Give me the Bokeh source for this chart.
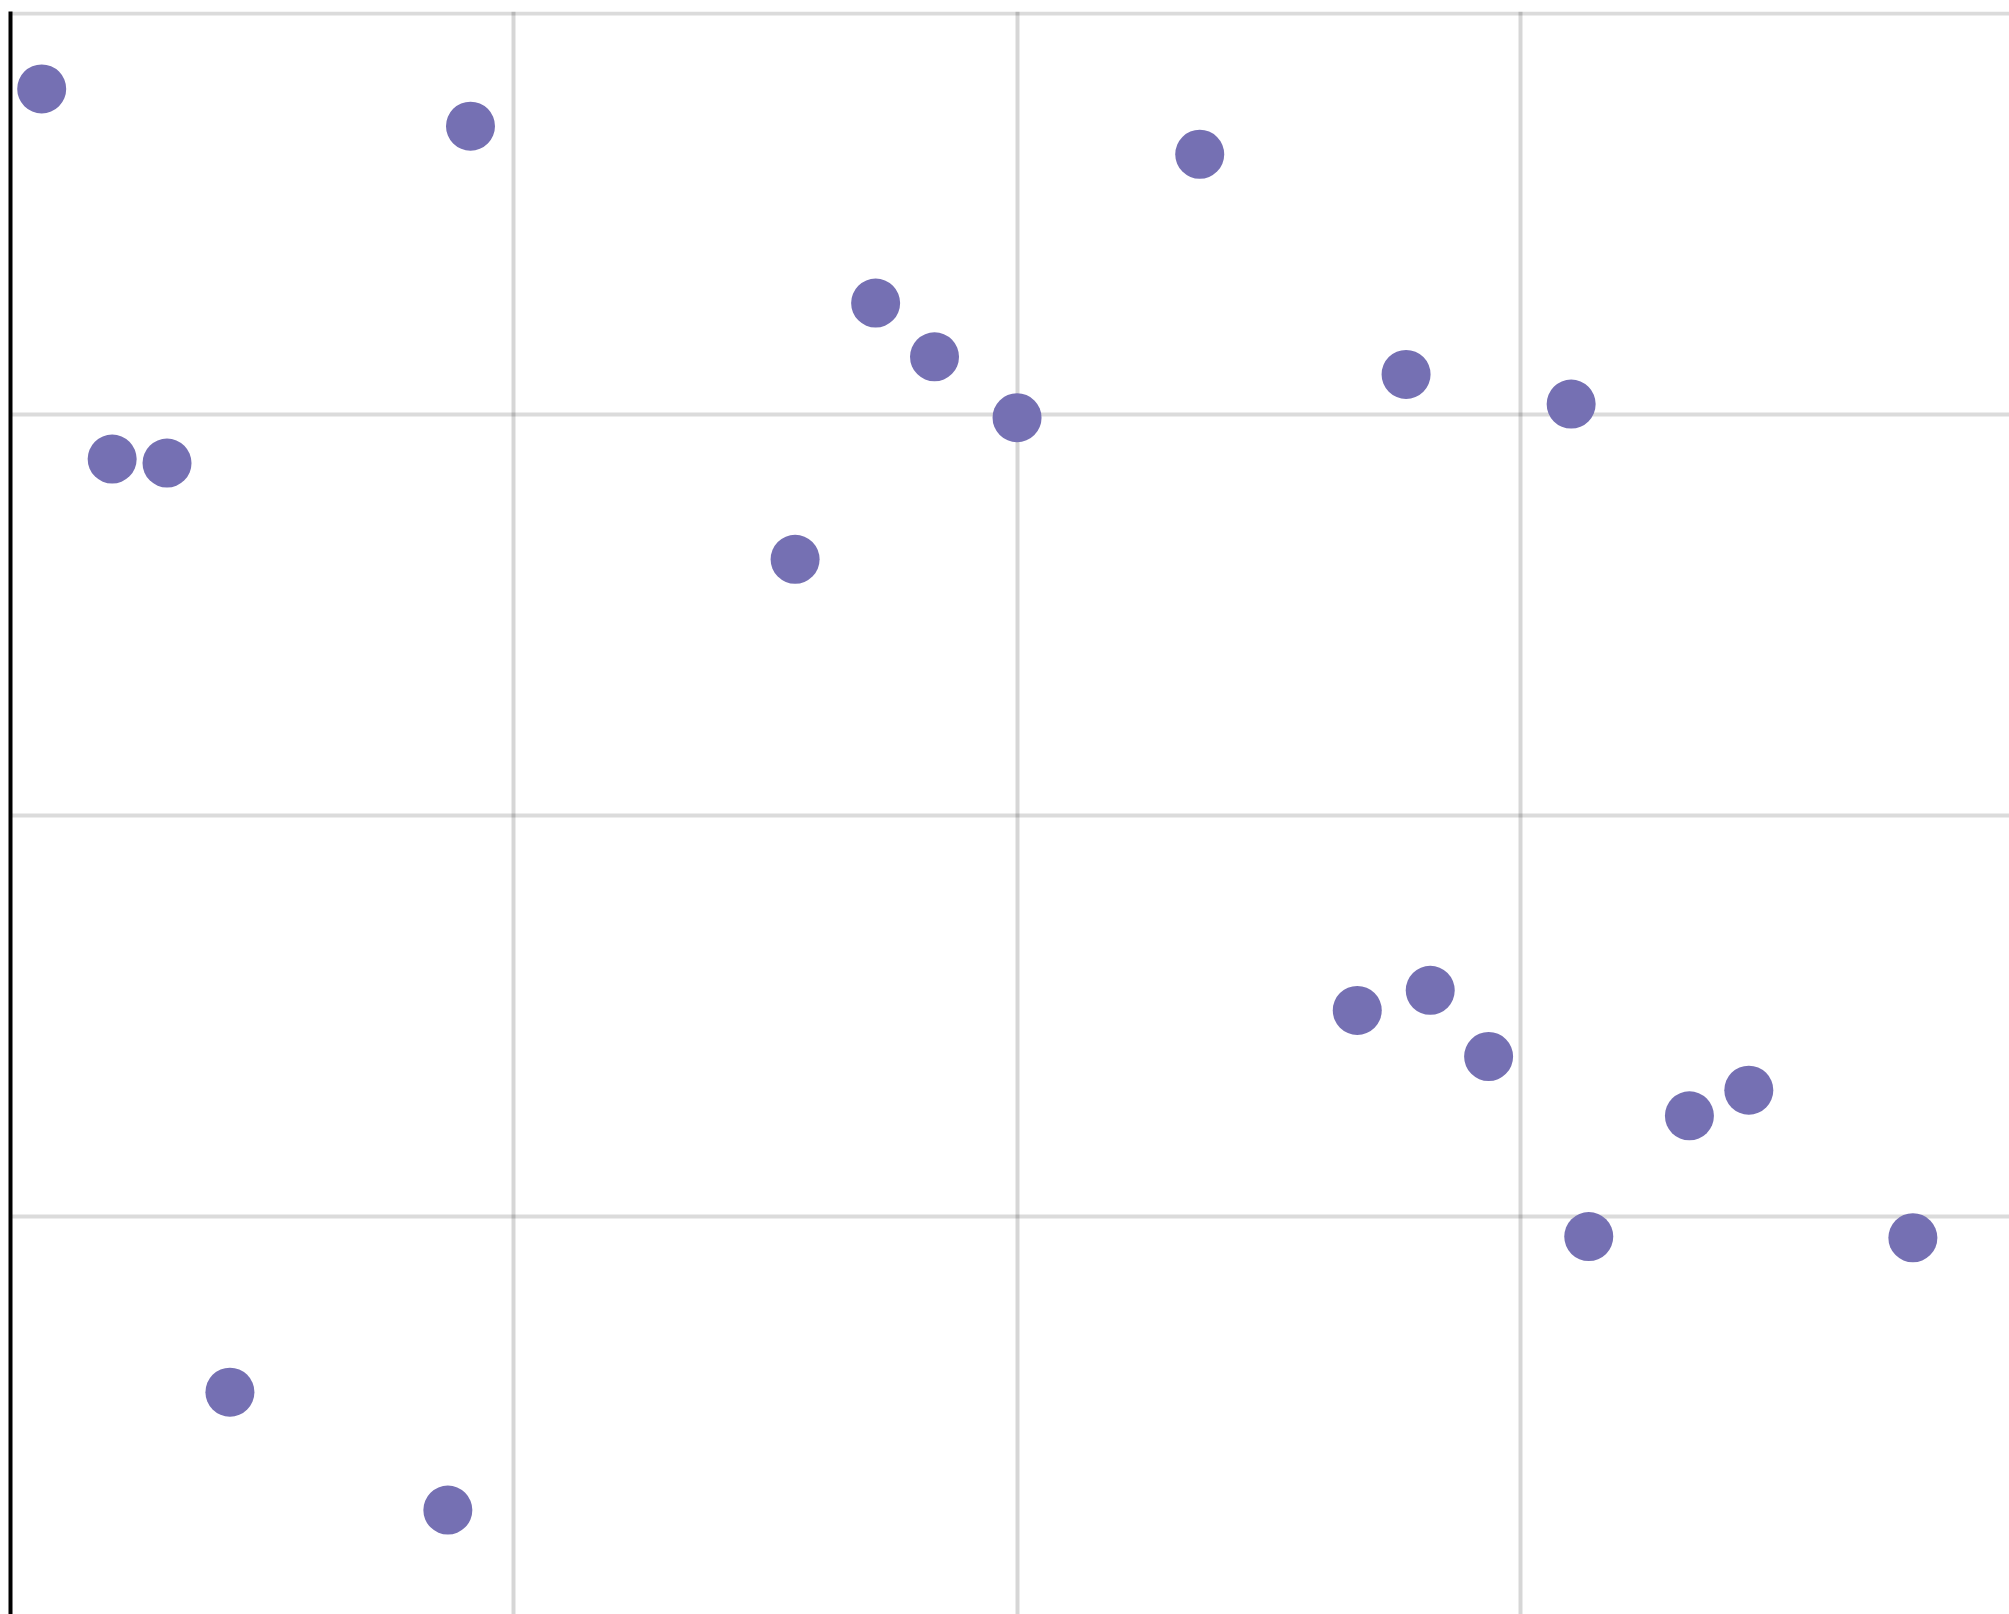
from bokeh.plotting import figure
from bokeh.models import Range1d, FixedTicker, ColumnDataSource
from bokeh.embed import file_html
from bokeh.resources import INLINE

x_values = [0.62, 9.14, 23.63, 17.19, 18.36, 20.00, 27.73, 31.01, 2.02, 3.11,
            15.59, 26.76, 28.21, 29.37, 33.36, 34.54, 31.36, 37.80, 4.36, 8.69]
y_values = [38.12, 37.19, 36.49, 32.78, 31.44, 29.92, 31.00, 30.26, 28.89, 28.79,
            26.39, 15.14, 15.64, 13.99, 12.51, 13.15, 9.50, 9.47, 5.62, 2.68]
x_ticks = [0, 10, 20, 30, 40]
y_ticks = [0, 10, 20, 30, 40]

src = ColumnDataSource(dict(x=x_values, y=y_values))

p = figure(width=2009, height=1614, output_backend="svg", toolbar_location=None,
           x_range=Range1d(0, 39.72), y_range=Range1d(0.075, 40.05),
           x_axis_location=None, y_axis_location="left",
           min_border=0, min_border_left=10, min_border_top=11)
p.outline_line_color = None
p.background_fill_color = "white"
p.border_fill_color = "white"

yaxis = p.yaxis[0]
yaxis.ticker = FixedTicker(ticks=y_ticks)
yaxis.axis_line_color = "black"
yaxis.axis_line_width = 4
yaxis.major_tick_line_color = None
yaxis.minor_tick_line_color = None
yaxis.major_tick_out = 0
yaxis.major_tick_in = 0
yaxis.major_label_standoff = 0
yaxis.major_label_text_font_size = "0px"
yaxis.major_label_text_alpha = 0

p.xgrid.ticker = FixedTicker(ticks=x_ticks)
p.ygrid.ticker = FixedTicker(ticks=y_ticks)
p.xgrid.grid_line_color = "black"
p.xgrid.grid_line_alpha = 0.16
p.xgrid.grid_line_width = 4
p.ygrid.grid_line_color = "black"
p.ygrid.grid_line_alpha = 0.14
p.ygrid.grid_line_width = 4

p.scatter("x", "y", source=src, size=49, fill_color="#7570b3", line_color=None)

open("out.html", "w").write(file_html(p, INLINE))
